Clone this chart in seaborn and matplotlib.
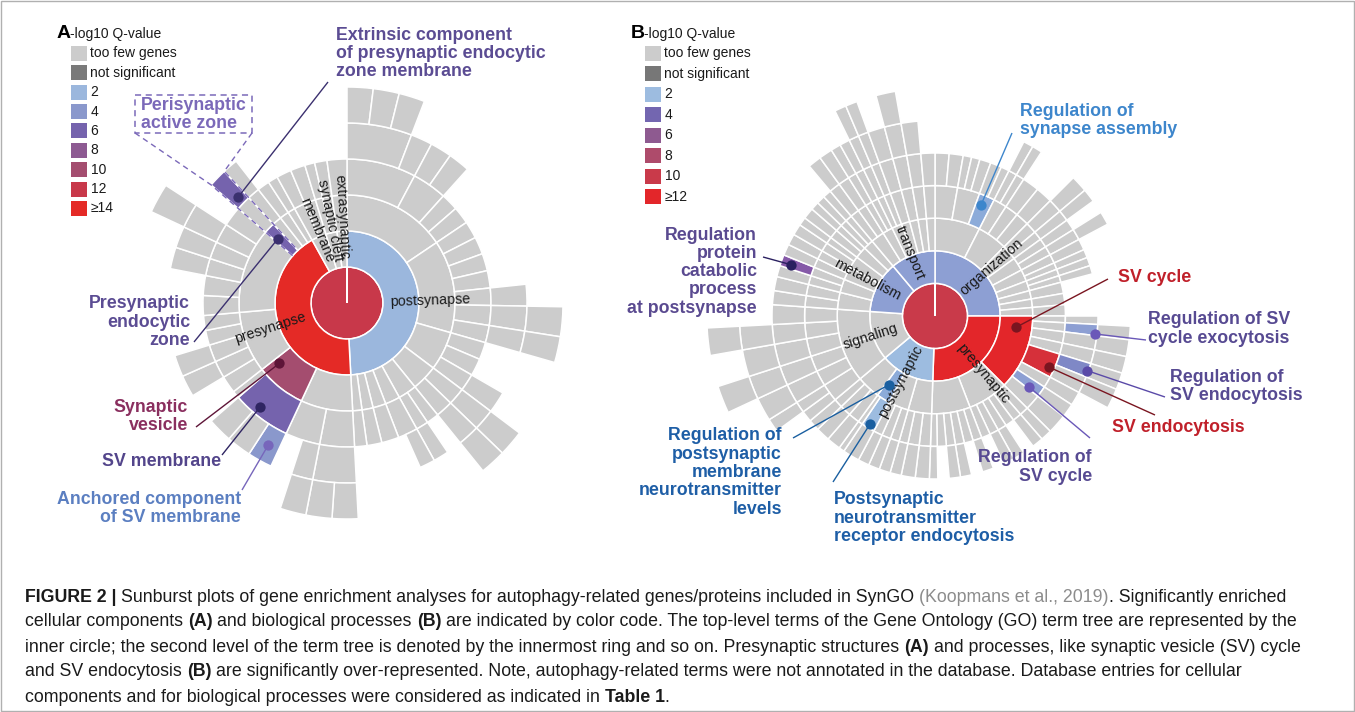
import numpy as np
import pandas as pd
import matplotlib
matplotlib.use("Agg")
import matplotlib.pyplot as plt
import seaborn as sns
from matplotlib.patches import Rectangle

W, H = 1355, 712

# Sunburst trees. Every ring lists, for each segment of the ring inside it
# (in order), the sizes (genes) of its child terms. A plain number is a term
# with too few genes, a tuple is (genes, -log10 Q, tag) for an enriched term.

# A: cellular components
A_CENTER = 12
A_RING1 = [[(177, 2, "post"), (154, 14, "pre"), 12, 9, 8]]
A_RING2 = [
    [56, 50, 21, 14, 10, 8, 7, 6, 5],
    [28, (27, 10, "sv"), 33, 46, (6, 6, "endo"), 5, 5, 4],
    [6, 6],
    [4, 5],
    [8],
]
A_RING3 = [
    [28, 14, 7, 7], [7, 7, 7, 7, 7, 8, 7], [7, 7, 7], [7, 7], [5, 5], [8], [7], [6], [5],
    [14, 14], [(24, 6, "svm"), 3], [7, 7, 7, 6, 6], [8, 8, 7, 7, 8, 8], [6], [5], [5], [4],
    [6], [6], [4], [5], [8],
]
A_RING4 = [
    [21, 7], [7, 7], [], [],
    [], [], [], [], [7], [8], [7],
    [], [], [7], [7], [7], [], [5], [5], [], [], [],
    [14], [7], [(8, 4, "anch"), 8, 8], [], [], [7], [7], [], [],
    [], [], [7], [7], [8], [], [(6, 6, "extr")], [5], [], [],
    [], [], [], [], [],
]
A_RING5 = [
    [7, 7, 7], [], [], [], [], [8], [7], [], [7], [7], [], [],
    [7, 7], [7], [], [], [], [], [], [], [], [8], [], [],
]

# B: biological processes
B_CENTER = 10
B_RING1 = [[(90, 3, "org"), (92, 12, "pre"), (48, 2, "post"), 44, (46, 3, "met"), (40, 3, "trans")]]
B_RING2 = [
    [27, 18, 9, 8, 7, 6, 5, 5, 5],
    [(45, 12, "svc"), 24, 23],
    [14, 12, (8, 2.5, "rpm"), 14],
    [22, 22],
    [10, 8, 8, 7, 7, 6],
    [8, 6, 6, 5, 5, 5, 5],
]
B_RING3 = [
    [10, 10, (7, 2.5, "rsa")], [6, 6, 6], [5, 4], [4, 4], [4, 3], [3, 3], [5], [5], [5],
    [3, 4, 5, 5, (11, 11, "sve"), 5, (5, 3, "rsc"), 7], [4, 4, 4, 4, 4, 4], [4, 4, 4, 4, 4, 3],
    [5, 5, 4], [4, 4, 4], [(6, 2, "rpr"), 2], [5, 5, 4],
    [8, 7, 7], [8, 7, 7],
    [5, 5], [4, 4], [4, 4], [4, 3], [4, 3], [3, 3],
    [4, 4], [3, 3], [3, 3], [5], [5], [5], [5],
]
B_RING4 = [
    [5, 5], [3, 3, 4], [4, 3], [3, 3], [6], [6], [5], [4], [4], [4], [4], [3], [3], [3], [], [], [],
    [3], [(4, 3, "rsce")], [5], [5], [(5, 3.5, "rsve"), 6], [5], [5], [7],
    [4], [4], [], [4], [4], [],
    [4], [], [4], [4], [], [3],
    [5], [5], [4], [4], [4], [4], [6], [2], [5], [5], [4],
    [4, 4], [7], [7], [8], [7], [7],
    [5], [5], [4], [(4, 5, "rpc")], [4], [4], [4], [3], [4], [3], [3], [3],
    [4], [4], [3], [3], [3], [3], [5], [5], [5], [5],
]
B_RING5 = [
    [], [], [], [], [], [], [], [3], [3], [], [], [5], [4], [], [4], [], [], [], [],
    [], [4], [5], [5], [5], [6], [], [], [],
    [], [], [], [], [], [], [], [],
    [], [], [], [], [], [], [], [], [], [], [],
    [], [4], [7], [7], [8], [7], [],
    [], [], [], [], [], [], [], [], [], [], [], [],
    [4], [4], [3], [3], [3], [3], [5], [5], [5], [],
]
B_RING6 = [
    [], [], [], [], [],
    [], [], [], [], [],
    [], [], [7], [], [7],
    [], [], [], [], [3], [3], [], [5], [],
]

A_LEGEND = ["too few genes", "not significant", "2", "4", "6", "8", "10", "12", "≥14"]
A_LEGEND_Q = [None, "ns", 2, 4, 6, 8, 10, 12, 14]
B_LEGEND = ["too few genes", "not significant", "2", "4", "6", "8", "10", "≥12"]
B_LEGEND_Q = [None, "ns", 2, 4, 6, 8, 10, 12]

GRAY = "#cccccc"
INK = "#1a1a1a"
A_COLORS = {"ns": "#7a7a7a", 2: "#9bb7dd", 4: "#8a98cc", 6: "#7563ad", 8: "#8d5a92",
            10: "#a44d6f", 12: "#c8384a", 14: "#e42a26"}
B_COLORS = {"ns": "#777777", 2: "#9dbce0", 2.5: "#8cabd9", 3: "#8d9fd3", 3.5: "#7f88c6",
            4: "#7366b0", 5: "#8559a8", 6: "#8e5a90", 8: "#ae4b6b", 10: "#c93a4a",
            11: "#d6303a", 12: "#e3262a"}


def unpack(entry):
    if isinstance(entry, tuple):
        return entry
    return entry, None, None


def layout(center, rings):
    rows = [dict(ring=0, start=0.0, size=360.0, q=center, tag="center")]
    total = sum(unpack(e)[0] for e in rings[0][0])
    scale = 360.0 / total
    parents = [0.0]
    for k, groups in enumerate(rings, start=1):
        nxt = []
        for p0, kids in zip(parents, groups):
            pos = p0
            for e in kids:
                n, q, tag = unpack(e)
                rows.append(dict(ring=k, start=pos, size=n * scale, q=q, tag=tag))
                nxt.append(pos)
                pos += n * scale
        parents = nxt
    return pd.DataFrame(rows)


def sunburst(fig, cx, cy, ring_px, segs, colors):
    n = segs["ring"].max() + 1
    lim = n + 0.03
    R = ring_px * lim
    ax = fig.add_axes([(cx - R) / W, 1 - (cy + R) / H, 2 * R / W, 2 * R / H],
                      projection="polar")
    ax.set_theta_zero_location("N")
    ax.set_theta_direction(-1)
    ax.bar(np.deg2rad(segs["start"]), 1.0, width=np.deg2rad(segs["size"]),
           bottom=segs["ring"], align="edge",
           color=[colors.get(q, GRAY) if q is not None else GRAY for q in segs["q"]],
           edgecolor="white", linewidth=1.1)
    ax.set_ylim(0, lim)
    ax.set_axis_off()
    return ax


def to_px(ax_from, ax_to, theta, r):
    disp = ax_from.transData.transform((np.deg2rad(theta), r))
    return ax_to.transData.inverted().transform(disp)


def seg_px(ax_p, ax_o, segs, tag, fa, fr):
    s = segs[segs["tag"] == tag].iloc[0]
    return to_px(ax_p, ax_o, s["start"] + fa * s["size"], s["ring"] + fr)


def ring_label(ax, theta, r, text, rot):
    ax.text(np.deg2rad(theta), r, text, rotation=rot, rotation_mode="anchor",
            ha="center", va="center", fontsize=10.3, color=INK)


def note(ax_o, ax_p, segs, spec):
    tag, lines, x, y, ha, tcol, start, lcol, fa, fr = spec
    for i, line in enumerate(lines):
        ax_o.text(x, y + i * 18.3, line, ha=ha, va="center", fontsize=12.8,
                  fontweight="bold", color=tcol)
    px, py = seg_px(ax_p, ax_o, segs, tag, fa, fr)
    ax_o.plot([start[0], px], [start[1], py], color=lcol, lw=1.0, solid_capstyle="butt")
    ax_o.scatter([px], [py], s=55, color=lcol, zorder=5, linewidths=0)


def legend(ax_o, x, y0, dy, title, letter, labels, qs, colors):
    ax_o.text(x - 14, 34, letter, fontsize=14, fontweight="bold", ha="left", va="center",
              color="black")
    ax_o.text(x - 1.5, 34, title, fontsize=10, ha="left", va="center", color=INK)
    for i, (lab, q) in enumerate(zip(labels, qs)):
        yc = y0 + i * dy
        col = colors.get(q, GRAY) if q is not None else GRAY
        ax_o.add_patch(Rectangle((x, yc - 7.5), 15.5, 15, color=col, lw=0))
        ax_o.text(x + 19.5, yc, lab, fontsize=10, ha="left", va="center", color=INK)


def text_width(ax, s, size, weight, r):
    t = ax.text(0, 0, s, fontsize=size, fontweight=weight)
    w = t.get_window_extent(r).width
    t.remove()
    return w


def caption(fig, ax_o, x0, ys, lines, target):
    r = fig.canvas.get_renderer()
    base = 12.0
    w1 = 0.0
    for txt, wt, _ in lines[0]:
        w1 += text_width(ax_o, txt.strip(), base, wt, r)
        w1 += (len(txt) - len(txt.strip())) * (text_width(ax_o, "a a", base, "normal", r)
                                                 - text_width(ax_o, "aa", base, "normal", r))
    size = base * target / w1
    sp = text_width(ax_o, "a a", size, "normal", r) - text_width(ax_o, "aa", size, "normal", r)
    for y, runs in zip(ys, lines):
        x = x0
        for txt, wt, col in runs:
            core = txt.strip()
            x += (len(txt) - len(txt.lstrip())) * sp
            t = ax_o.text(x, y, core, fontsize=size, fontweight=wt, color=col,
                          ha="left", va="center")
            x += t.get_window_extent(r).width
            x += (len(txt) - len(txt.rstrip())) * sp


def main():
    sns.set_theme(style="white")
    plt.rcParams["font.family"] = ["Liberation Sans", "DejaVu Sans"]

    fig = plt.figure(figsize=(W / 100, H / 100), dpi=100)
    fig.patch.set_facecolor("white")

    segs_a = layout(A_CENTER, [A_RING1, A_RING2, A_RING3, A_RING4, A_RING5])
    segs_b = layout(B_CENTER, [B_RING1, B_RING2, B_RING3, B_RING4, B_RING5, B_RING6])

    ax_a = sunburst(fig, 347, 303, 36.0, segs_a, A_COLORS)
    ax_b = sunburst(fig, 935, 316, 32.6, segs_b, B_COLORS)

    ring_label(ax_a, 88, 2.3, "postsynapse", 2)
    ring_label(ax_a, 252, 2.25, "presynapse", 18)
    ring_label(ax_a, 356.5, 2.4, "extrasynaptic", -86.5)
    ring_label(ax_a, 348.4, 2.36, "synaptic cleft", -78.4)
    ring_label(ax_a, 337.4, 2.2, "membrane", -67.4)

    ring_label(ax_b, 49, 2.3, "organization", 41)
    ring_label(ax_b, 338, 2.09, "transport", -68)
    ring_label(ax_b, 298, 2.36, "metabolism", -28)
    ring_label(ax_b, 252, 2.09, "signaling", 18)
    ring_label(ax_b, 208, 2.28, "postsynaptic", 62)
    ring_label(ax_b, 140, 2.3, "presynaptic", -50)

    ax_o = fig.add_axes([0, 0, 1, 1], zorder=3)
    ax_o.set_xlim(0, W)
    ax_o.set_ylim(H, 0)
    ax_o.set_axis_off()
    ax_o.patch.set_alpha(0)

    legend(ax_o, 71, 53.3, 19.4, "-log10 Q-value", "A", A_LEGEND, A_LEGEND_Q, A_COLORS)
    legend(ax_o, 645, 53.3, 20.5, "-log10 Q-value", "B", B_LEGEND, B_LEGEND_Q, B_COLORS)

    a_notes = [
        ("extr", ["Extrinsic component", "of presynaptic endocytic", "zone membrane"],
         336, 35, "left", "#5b4c93", (328, 82), "#3b306f", 0.57, 0.22),
        ("endo", ["Presynaptic", "endocytic", "zone"],
         190, 304, "right", "#5b4c93", (194, 342), "#3b306f", 0.28, 0.62),
        ("sv", ["Synaptic", "vesicle"],
         188, 407, "right", "#8a2f5f", (196, 427), "#5e1538", 0.86, 0.52),
        ("svm", ["SV membrane"],
         221, 462, "right", "#53458b", (222, 455), "#2f2562", 0.62, 0.75),
        ("anch", ["Anchored component", "of SV membrane"],
         241, 499, "right", "#5b7fc1", (242, 490), "#7766bb", 0.5, 0.5),
    ]
    for spec in a_notes:
        note(ax_o, ax_a, segs_a, spec)

    # dashed call-out for the perisynaptic active zone strip
    peri = "#7b69b9"
    ax_o.add_patch(Rectangle((135, 95), 117, 38, fill=False, ec=peri, lw=1.1,
                             ls=(0, (4, 3))))
    ax_o.text(141, 105, "Perisynaptic", fontsize=12.8, fontweight="bold", color=peri, va="center")
    ax_o.text(141, 123.5, "active zone", fontsize=12.8, fontweight="bold", color=peri, va="center")
    strip = segs_a[segs_a["tag"] == "extr"].iloc[0]
    for corner, th in [((135, 133), strip["start"]), ((252, 133), strip["start"] + strip["size"])]:
        p_out = to_px(ax_a, ax_o, th, 5.0)
        p_in = to_px(ax_a, ax_o, th, 2.0)
        ax_o.plot([corner[0], p_out[0], p_in[0]], [corner[1], p_out[1], p_in[1]],
                  color=peri, lw=1.0, ls=(0, (4, 3)))

    b_notes = [
        ("rsa", ["Regulation of", "synapse assembly"],
         1020, 111, "left", "#3d86cc", (1012, 133), "#3d86cc", 0.36, 0.67),
        ("rpc", ["Regulation", "protein", "catabolic", "process", "at postsynapse"],
         757, 235, "right", "#5a4a90", (763, 257), "#2a2060", 0.4, 0.7),
        ("svc", ["SV cycle"],
         1118, 277, "left", "#c0202a", (1108, 279), "#7a1520", 0.18, 0.5),
        ("rsce", ["Regulation of SV", "cycle exocytosis"],
         1148, 320, "left", "#574a92", (1146, 340), "#6a58b8", 0.85, 0.95),
        ("rsve", ["Regulation of", "SV endocytosis"],
         1170, 377, "left", "#574a92", (1165, 397), "#5a4aa8", 0.55, 0.95),
        ("sve", ["SV endocytosis"],
         1112, 427, "left", "#c0202a", (1155, 415), "#7a1520", 0.65, 0.83),
        ("rsc", ["Regulation of", "SV cycle"],
         1092, 458, "right", "#574a92", (1090, 438), "#6a58b8", 0.8, 0.6),
        ("rpm", ["Regulation of", "postsynaptic", "membrane", "neurotransmitter", "levels"],
         782, 436, "right", "#1e5ea6", (793, 438), "#1a5fa0", 0.75, 0.55),
        ("rpr", ["Postsynaptic", "neurotransmitter", "receptor endocytosis"],
         834, 500, "left", "#1e5ea6", (833, 482), "#1a5fa0", 0.5, 0.85),
    ]
    for spec in b_notes:
        note(ax_o, ax_b, segs_b, spec)

    gray_ref = "#8c8c8c"
    cap = [
        [("FIGURE 2 |", "bold", INK),
         (" Sunburst plots of gene enrichment analyses for autophagy-related genes/proteins included in SynGO ", "normal", INK),
         ("(Koopmans et al., 2019)", "normal", gray_ref),
         (". Significantly enriched", "normal", INK)],
        [("cellular components ", "normal", INK), ("(A)", "bold", INK),
         (" and biological processes ", "normal", INK), ("(B)", "bold", INK),
         (" are indicated by color code. The top-level terms of the Gene Ontology (GO) term tree are represented by the", "normal", INK)],
        [("inner circle; the second level of the term tree is denoted by the innermost ring and so on. Presynaptic structures ", "normal", INK),
         ("(A)", "bold", INK), (" and processes, like synaptic vesicle (SV) cycle", "normal", INK)],
        [("and SV endocytosis ", "normal", INK), ("(B)", "bold", INK),
         (" are significantly over-represented. Note, autophagy-related terms were not annotated in the database. Database entries for cellular", "normal", INK)],
        [("components and for biological processes were considered as indicated in ", "normal", INK),
         ("Table 1", "bold", INK), (".", "normal", INK)],
    ]
    caption(fig, ax_o, 25, [597, 622, 647, 672, 697], cap, 1268)

    ax_o.add_patch(Rectangle((1, 1), W - 2.5, H - 2.5, fill=False, ec="#b0b0b0", lw=1.0))

    fig.savefig("out.png", dpi=100)


if __name__ == "__main__":
    main()
